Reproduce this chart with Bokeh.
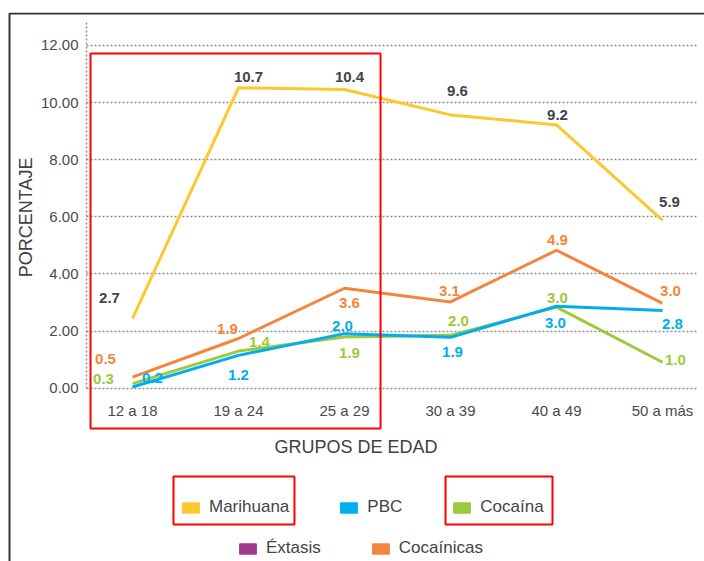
import math
from bokeh.plotting import figure
from bokeh.models import (ColumnDataSource, Legend, LegendItem, BoxAnnotation,
                          FixedTicker, Range1d, NumeralTickFormatter, Label)
from bokeh.core.properties import value
from bokeh.embed import file_html
from bokeh.resources import INLINE

# ---------------- data ----------------
categories = ["12 a 18", "19 a 24", "25 a 29", "30 a 39", "40 a 49", "50 a más"]
series_names = ["Marihuana", "PBC", "Cocaína", "Éxtasis", "Cocaínicas"]

marihuana = [2.44, 10.52, 10.46, 9.57, 9.22, 5.88]
pbc = [0.04, 1.15, 1.91, 1.78, 2.87, 2.72]
cocaina = [0.16, 1.30, 1.79, 1.85, 2.84, 0.91]
extasis = []  # appears only in the legend
cocainicas = [0.39, 1.74, 3.50, 3.02, 4.83, 2.97]

marihuana_labels = ["2.7", "10.7", "10.4", "9.6", "9.2", "5.9"]
pbc_labels = ["0.2", "1.2", "2.0", "1.9", "3.0", "2.8"]
cocaina_labels = ["0.3", "1.4", "1.9", "2.0", "3.0", "1.0"]
cocainicas_labels = ["0.5", "1.9", "3.6", "3.1", "4.9", "3.0"]

y_ticks = [0, 2, 4, 6, 8, 10, 12]
x_title = "GRUPOS DE EDAD"
y_title = "PORCENTAJE"

# ---------------- styles / label offsets (screen px) ----------------
COL = {"Marihuana": "#FDC82F", "PBC": "#00AEEF", "Cocaína": "#9DC93C",
       "Éxtasis": "#9E3A8F", "Cocaínicas": "#F5853A"}
LABEL_DARK = "#3F4450"
FONT_NAME = "Liberation Sans"
FONT = value(FONT_NAME)

mar_dx = [-23, 10, 5, 7, 1, 7];      mar_dy = [-21, -11, -12, -24, -10, -18]
coc2_dx = [-27, -11, 5, -1, 1, 8];   coc2_dy = [-18, -10, 15, -11, -10, -12]
pbc_dx = [20, 0, -2, 2, -1, 10];     pbc_dy = [-9, 20, -8, 15, 17, 13]
coc_dx = [-29, 21, 5, 8, 1, 13];     coc_dy = [-5, -9, 16, -14, -9, -2]

xs = list(range(len(categories)))
NAN = float("nan")

# frame spans the whole page; the plotting region proper is x in [-0.434, 5.34]
X_AX, X_END = -0.434, 5.34
Y_TOP = 12.88

p = figure(width=704, height=561,
           x_range=Range1d(-1.179, 5.396), y_range=Range1d(-6.068, 13.155),
           output_backend="svg", toolbar_location=None,
           min_border_left=7, min_border_right=0, min_border_top=12,
           min_border_bottom=0)
p.outline_line_color = None
p.background_fill_color = "#FFFFFF"

# x axis (labels pulled up to sit under the plotting region)
xa = p.xaxis[0]
xa.ticker = FixedTicker(ticks=xs)
xa.major_label_overrides = {i: c for i, c in enumerate(categories)}
xa.axis_line_color = None
xa.major_tick_line_color = None
xa.minor_tick_line_color = None
xa.major_label_standoff = -166
xa.major_label_text_font = FONT_NAME
xa.major_label_text_font_size = "15px"
xa.major_label_text_color = "#4A4A4A"
xa.axis_label = x_title
xa.axis_label_standoff = 15
xa.axis_label_text_font = FONT_NAME
xa.axis_label_text_font_size = "18px"
xa.axis_label_text_font_style = "normal"
xa.axis_label_text_color = "#404040"

# y axis
ya = p.yaxis[0]
ya.ticker = FixedTicker(ticks=y_ticks)
ya.formatter = NumeralTickFormatter(format="0.00")
ya.axis_line_color = None
ya.major_tick_line_color = None
ya.minor_tick_line_color = None
ya.major_label_standoff = -77
ya.major_label_text_font = FONT_NAME
ya.major_label_text_font_size = "15px"
ya.major_label_text_color = "#4A4A4A"

# y axis title, centred on the plotting region's vertical extent
p.add_layout(Label(x=-1.0, y=5.98, text=y_title, angle=math.pi / 2,
                   text_align="center", text_baseline="middle",
                   text_font=FONT_NAME, text_font_size="18px",
                   text_color="#404040"))

# horizontal dotted grid + dotted vertical axis line
p.ygrid.grid_line_color = "#8C8C8C"
p.ygrid.grid_line_dash = "2 2"
p.ygrid.grid_line_width = 1.5
p.ygrid.cross_bounds = (X_AX, X_END)
p.xgrid.ticker = FixedTicker(ticks=[X_AX])
p.xgrid.grid_line_color = "#8C8C8C"
p.xgrid.grid_line_dash = "2 2"
p.xgrid.grid_line_width = 1.5
p.xgrid.cross_bounds = (0, Y_TOP)

# lines
series = [("Marihuana", marihuana), ("Cocaínicas", cocainicas),
          ("Cocaína", cocaina), ("PBC", pbc)]
for name, vals in series:
    p.line(xs, vals, line_color=COL[name], line_width=3)

# data labels
lab_sets = [
    (marihuana, marihuana_labels, mar_dx, mar_dy, LABEL_DARK),
    (cocainicas, cocainicas_labels, coc2_dx, coc2_dy, COL["Cocaínicas"]),
    (pbc, pbc_labels, pbc_dx, pbc_dy, COL["PBC"]),
    (cocaina, cocaina_labels, coc_dx, coc_dy, COL["Cocaína"]),
]
for vals, labs, dx, dy, col in lab_sets:
    src = ColumnDataSource(dict(x=xs, y=vals, t=labs, dx=dx, dy=dy))
    p.text(x="x", y="y", text="t", x_offset="dx", y_offset="dy", source=src,
           text_align="center", text_baseline="middle", text_color=col,
           text_font=FONT, text_font_style="bold", text_font_size="15px")

# legend swatches (renderers with a single undrawn point)
sw = {}
for name in series_names:
    sw[name] = p.rect(x=[NAN], y=[NAN], width=1, height=1,
                      fill_color=COL[name], line_color=COL[name])

def make_legend(names, loc):
    return Legend(items=[LegendItem(label=n, renderers=[sw[n]]) for n in names],
                  location=loc, orientation="horizontal",
                  glyph_width=21, glyph_height=13, label_standoff=8, spacing=49,
                  padding=0, margin=0, border_line_color=None,
                  background_fill_alpha=0, label_height=17,
                  label_text_font=FONT_NAME, label_text_font_size="17px",
                  label_text_color="#444444")

p.add_layout(make_legend(["Marihuana", "PBC", "Cocaína"], (173, 44)))
p.add_layout(make_legend(["Éxtasis", "Cocaínicas"], (230, 3)))

# red highlight boxes and outer frame
box_style = dict(fill_color=None, line_color="#FF0000", line_alpha=1, line_width=2)
p.add_layout(BoxAnnotation(left=-0.396, right=2.34, top=11.72, bottom=-1.41, **box_style))
p.add_layout(BoxAnnotation(left=0.387, right=1.528, top=-3.092, bottom=-4.772, **box_style))
p.add_layout(BoxAnnotation(left=2.953, right=3.962, top=-3.092, bottom=-4.772, **box_style))
p.add_layout(BoxAnnotation(left=-1.160, right=20, top=13.12, bottom=-40,
                           fill_color=None, line_color="#333333", line_alpha=1,
                           line_width=2))

open("out.html", "w").write(file_html(p, INLINE))
